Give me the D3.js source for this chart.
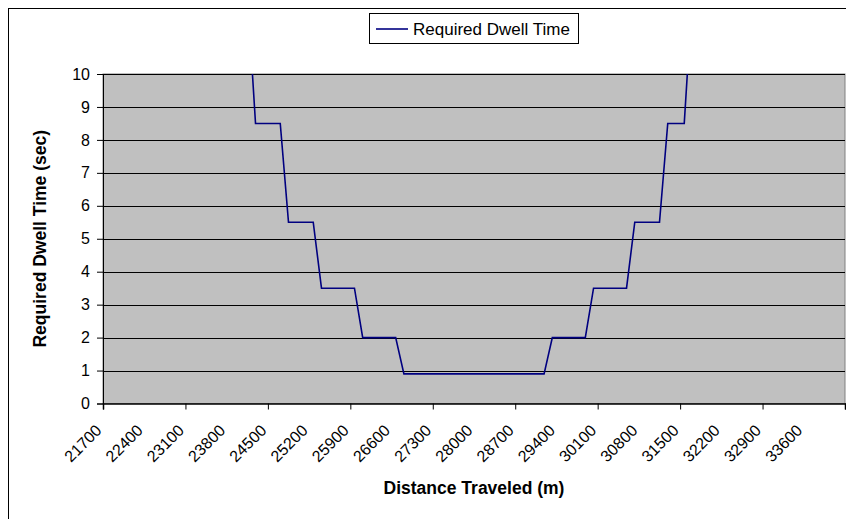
<!DOCTYPE html>
<html>
<head>
<meta charset="utf-8">
<script src="https://cdn.jsdelivr.net/npm/d3@7"></script>
<style>
    body { margin: 0; background: #fff; }
    svg { display: block; font-family: 'Liberation Sans', Arial, sans-serif; }
</style>
</head>
<body>
<svg id="chart" width="846" height="519"></svg>
<script>
// Corner points of the step line (distance in m, dwell in sec)
const distances = [24080, 24220, 24640, 24780, 25200, 25340, 25900, 26040, 26600, 26740,
    29120, 29260, 29820, 29960, 30520, 30660, 31080, 31220, 31500, 31640];
const dwellTimes = [12.5, 8.5, 8.5, 5.5, 5.5, 3.5, 3.5, 2, 2, 0.9,
    0.9, 2, 2, 3.5, 3.5, 5.5, 5.5, 8.5, 8.5, 12.5];

// Category axis: 140 m per category, first category 21700
const xDomain = [21630, 34230];
const xTickMarks = [21630, 23030, 24430, 25830, 27230, 28630, 30030, 31430, 32830, 34230];
const xTickLabels = [21700, 22400, 23100, 23800, 24500, 25200, 25900, 26600, 27300,
    28000, 28700, 29400, 30100, 30800, 31500, 32200, 32900, 33600];
const yTicks = [0, 1, 2, 3, 4, 5, 6, 7, 8, 9, 10];

const seriesName = 'Required Dwell Time';
const xTitle = 'Distance Traveled (m)';
const yTitle = 'Required Dwell Time (sec)';

const svg = d3.select('#chart');

const plot = {left: 103, top: 74, right: 845, bottom: 403.5};

const xScale = d3.scaleLinear().domain(xDomain).range([plot.left, plot.right]);
const yScale = d3.scaleLinear().domain([0, 10]).range([plot.bottom, plot.top]);

// chart frame
svg.append('rect')
    .attr('x', 8.5)
    .attr('y', 8.5)
    .attr('width', 860)
    .attr('height', 540)
    .attr('fill', '#fff')
    .attr('stroke', '#000')
    .attr('stroke-width', 1);

// plot area
svg.append('rect')
    .attr('x', plot.left)
    .attr('y', plot.top)
    .attr('width', plot.right - plot.left)
    .attr('height', plot.bottom - plot.top)
    .attr('fill', '#c0c0c0')
    .attr('stroke', '#808080')
    .attr('stroke-width', 1);

// gridlines
svg.append('g')
    .selectAll('line')
    .data(yTicks.filter(d => d > 0))
    .join('line')
    .attr('x1', plot.left)
    .attr('x2', plot.right)
    .attr('y1', d => Math.round(yScale(d)) + 0.5)
    .attr('y2', d => Math.round(yScale(d)) + 0.5)
    .attr('stroke', '#000')
    .attr('stroke-width', 1);

// y axis
const yAxis = svg.append('g')
    .attr('transform', `translate(${plot.left},0)`)
    .call(d3.axisLeft(yScale).tickValues(yTicks).tickSize(6).tickPadding(7).tickFormat(d3.format('d')));
yAxis.select('.domain').attr('stroke', '#000');
yAxis.selectAll('.tick line').attr('stroke', '#000');
yAxis.selectAll('text')
    .attr('font-size', '16px')
    .attr('fill', '#000')
    .attr('font-family', 'Liberation Sans, Arial, sans-serif');

// x axis: tick marks between categories
const xAxisMarks = svg.append('g')
    .attr('transform', `translate(0,${plot.bottom})`)
    .call(d3.axisBottom(xScale).tickValues(xTickMarks).tickSize(6).tickFormat(''));
xAxisMarks.select('.domain').attr('stroke', '#000').attr('stroke-width', 1.5);
xAxisMarks.selectAll('.tick line').attr('stroke', '#000');

// x axis labels (rotated)
const xAxisLabels = svg.append('g')
    .attr('transform', `translate(0,${plot.bottom})`)
    .call(d3.axisBottom(xScale).tickValues(xTickLabels).tickSize(0).tickFormat(d3.format('d')));
xAxisLabels.select('.domain').remove();
xAxisLabels.selectAll('text')
    .attr('font-size', '16px')
    .attr('fill', '#000')
    .attr('font-family', 'Liberation Sans, Arial, sans-serif')
    .attr('text-anchor', 'end')
    .attr('x', -9)
    .attr('y', 24)
    .attr('dy', '0.35em')
    .attr('transform', 'rotate(-45,-9,24)');

// the line, clipped to the plot area
svg.append('clipPath')
    .attr('id', 'plot-clip')
    .append('rect')
    .attr('x', plot.left)
    .attr('y', plot.top)
    .attr('width', plot.right - plot.left)
    .attr('height', plot.bottom - plot.top);

const points = distances.map((d, i) => ({dist: d, dwell: dwellTimes[i]}));

const valueLine = d3.line()
    .x(d => xScale(d.dist))
    .y(d => yScale(d.dwell));

svg.append('path')
    .datum(points)
    .attr('clip-path', 'url(#plot-clip)')
    .attr('fill', 'none')
    .attr('stroke', '#000080')
    .attr('stroke-width', 1.6)
    .attr('d', valueLine);

// axis titles
svg.append('text')
    .attr('x', (plot.left + plot.right) / 2)
    .attr('y', 494)
    .attr('text-anchor', 'middle')
    .attr('font-size', '17.5px')
    .attr('font-weight', 'bold')
    .text(xTitle);

svg.append('text')
    .attr('transform', `translate(46,${(plot.top + plot.bottom) / 2}) rotate(-90)`)
    .attr('text-anchor', 'middle')
    .attr('font-size', '17.5px')
    .attr('font-weight', 'bold')
    .text(yTitle);

// legend
const legend = svg.append('g');
legend.append('rect')
    .attr('x', 369.5)
    .attr('y', 13.5)
    .attr('width', 209)
    .attr('height', 30)
    .attr('fill', '#fff')
    .attr('stroke', '#000');
legend.append('line')
    .attr('x1', 376)
    .attr('x2', 408)
    .attr('y1', 29)
    .attr('y2', 29)
    .attr('stroke', '#000080')
    .attr('stroke-width', 1.6);
legend.append('text')
    .attr('x', 413)
    .attr('y', 29)
    .attr('dy', '0.35em')
    .attr('font-size', '17px')
    .text(seriesName);
</script>
</body>
</html>
